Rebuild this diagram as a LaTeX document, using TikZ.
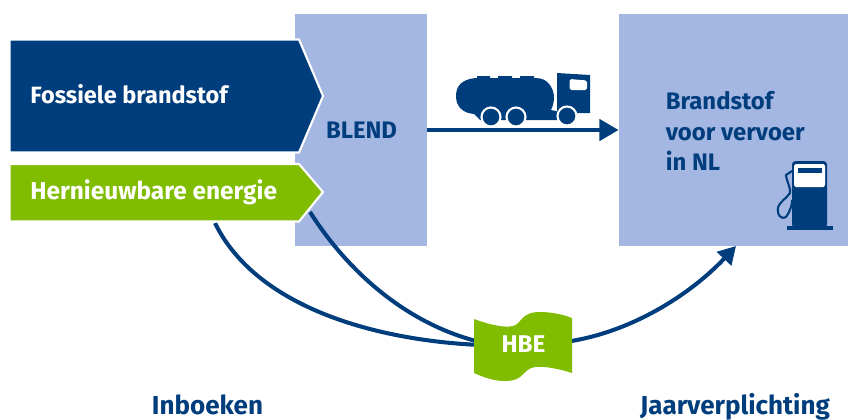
\documentclass[tikz,border=0pt]{standalone}
\usepackage{fontspec}
\setmainfont{Fira Sans}
\usepackage{xcolor}
\usetikzlibrary{arrows.meta, positioning, calc}
\definecolor{navycolor}{RGB}{0, 61, 125}
\definecolor{greencolor}{RGB}{128, 188, 0}
\definecolor{paleblue}{RGB}{163, 183, 226}
\tikzset{
    boxlabel/.style={font=\fontsize{13.4pt}{16pt}\selectfont\bfseries, white, anchor=west, inner sep=0pt},
    bluelabel/.style={font=\fontsize{13.6pt}{17.6pt}\selectfont\bfseries, navycolor, inner sep=0pt},
    bottomlabel/.style={font=\fontsize{14.8pt}{18pt}\selectfont\bfseries, navycolor, inner sep=0pt, anchor=base},
    panel/.style={fill=paleblue, draw=none, inner sep=0pt, minimum height=232*0.02cm},
    flow/.style={navycolor, line width=2.3pt},
    wheel/.style={circle, fill=navycolor, draw=white, line width=1.2pt, minimum size=19*0.02cm, inner sep=0pt}
}

\begin{document}
\begin{tikzpicture}[x=0.02cm, y=-0.02cm]
    \useasboundingbox (0,0) rectangle (848,419);

    % Blue panels
    \node[panel, minimum width=132*0.02cm] (blend) at (361,130) {};
    \node[panel, minimum width=229*0.02cm] (vervoer) at (733.5,130) {};
    \node[bluelabel] (blendtext) at (361.5,130) {BLEND};
    \node[bluelabel, anchor=west, align=left] (vervoertext) at (665.5,131) {Brandstof\\voor vervoer\\in NL};

    % Curves to HBE
    \coordinate (startone) at (215,223);
    \coordinate (starttwo) at (310,212);
    \coordinate (hbein) at (480,345);
    \coordinate (hbeintwo) at (480,342);
    \coordinate (hbeout) at (565,342);
    \coordinate (tipend) at (736,246);
    \draw[flow] (startone) .. controls (255,305) and (370,340) .. (hbein);
    \draw[flow] (starttwo) .. controls (350,275) and (410,325) .. (hbeintwo);
    \draw[flow, -{Triangle[length=10pt, width=11pt]}] (hbeout) .. controls (630,333) and (690,295) .. (tipend);

    % Fossiele brandstof
    \draw[draw=white, line width=1.2pt, fill=navycolor] (9.5,39.5) -- (299,39.5) -- (323,96) -- (299,152.5) -- (9.5,152.5) -- cycle;
    \node[boxlabel] (fossiel) at (30,94) {Fossiele brandstof};

    % Hernieuwbare energie
    \draw[draw=white, line width=1.2pt, fill=greencolor] (9.5,164) -- (299,164) -- (323,192) -- (299,221.5) -- (9.5,221.5) -- cycle;
    \node[boxlabel, font=\fontsize{13.9pt}{16pt}\selectfont\bfseries] (hernieuwbaar) at (30,192) {Hernieuwbare energie};

    % HBE flag
    \fill[greencolor] (474,319) .. controls (490,325) and (505,328) .. (513,326)
        .. controls (522,324) and (520,312) .. (540,312)
        .. controls (550,312) and (562,314) .. (572,318)
        -- (572,373) .. controls (560,369) and (545,366) .. (535,367)
        .. controls (522,369) and (525,381) .. (505,381)
        .. controls (495,381) and (485,378) .. (474,373) -- cycle;
    \node[font=\fontsize{13.8pt}{16pt}\selectfont\bfseries, white, inner sep=0pt] (hbe) at (523.5,344) {HBE};

    % Arrow between panels, with truck
    \draw[navycolor, line width=2.6pt, -{Triangle[length=11pt, width=12pt]}] (blend.east) -- (vervoer.west);
    \fill[navycolor] (476,78) .. controls (462,79) and (456,86) .. (456,96)
        .. controls (456,107) and (463,113) .. (474,114) -- (480,120) -- (560,120) -- (560,112)
        -- (551,110) .. controls (556,100) and (555,88) .. (546,81) .. controls (541,78) and (538,78) .. (534,78) -- cycle;
    \fill[navycolor] (477,76) rectangle (490,80) (498,76) rectangle (512,80) (520,76) rectangle (534,80);
    \fill[navycolor] (557,73) -- (590,75) -- (590,113) -- (557,113) -- cycle;
    \fill[white, rounded corners=1pt] (569.5,79) -- (587,80.5) -- (587,90) -- (569.5,90) -- cycle;
    \foreach \x/\y in {491/117, 516/117, 567/116} {
        \node[wheel] at (\x,\y) {};
    }

    % Fuel pump
    \fill[navycolor, rounded corners=2pt] (792,161) rectangle (827,228);
    \fill[navycolor] (787,226) rectangle (833,230);
    \fill[white, rounded corners=1pt] (794,164) rectangle (825,187);
    \fill[navycolor] (798,168) rectangle (822,173);
    \draw[navycolor, line width=1.2pt] (792,171) -- (786,175) .. controls (787,183) and (791,188) .. (790,193)
        .. controls (785,200) and (776,204) .. (778,212) .. controls (779,219) and (786,220) .. (788,214)
        .. controls (791,208) and (792,205) .. (792,200);

    % Bottom labels
    \node[bottomlabel] (inboeken) at (207.5,414) {Inboeken};
    \node[bottomlabel] (jaar) at (735,414) {Jaarverplichting};
\end{tikzpicture}
\end{document}
